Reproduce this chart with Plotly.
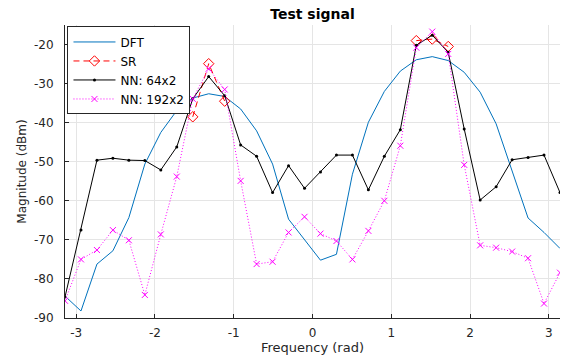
import numpy as np
import plotly.graph_objects as go

freq = np.linspace(-np.pi, np.pi, 32)

dft = [-84.4, -88.2, -76.2, -72.8, -64.3, -50.6, -42.5, -36.9, -33.7, -32.6,
       -33.3, -36.5, -42.1, -50.6, -64.7, -69.8, -75.2, -73.7, -53.2, -39.9,
       -32.0, -26.8, -23.9, -23.1, -24.1, -27.1, -32.2, -40.3, -52.3, -64.4,
       -68.1, -72.2]

sr = [None] * 8 + [-38.5, -24.9, -34.5] + [None] * 11 + [-19.0, -18.6, -20.5] + [None] * 7

nn64 = [-84.6, -67.5, -49.6, -49.1, -49.6, -49.7, -52.1, -46.2, -33.9, -28.2,
        -33.1, -45.7, -48.6, -57.9, -51.0, -56.8, -52.6, -48.3, -48.3, -57.2,
        -48.6, -41.8, -20.2, -17.6, -22.0, -41.6, -59.8, -56.4, -49.5, -48.9,
        -48.3, -57.9]

nn192 = [-85.6, -75.0, -72.6, -67.5, -70.1, -84.1, -68.6, -53.8, -33.9, -26.2,
         -31.5, -54.9, -76.2, -75.6, -68.1, -64.1, -68.4, -70.3, -75.0, -67.7,
         -60.0, -45.9, -20.8, -16.7, -22.4, -50.8, -71.4, -72.0, -73.0, -74.7,
         -86.3, -78.4]

xticks = [-3, -2, -1, 0, 1, 2, 3]
xticklabels = ["-3", "-2", "-1", "0", "1", "2", "3"]
yticks = [-90, -80, -70, -60, -50, -40, -30, -20]
yticklabels = ["-90", "-80", "-70", "-60", "-50", "-40", "-30", "-20"]

FONT = "DejaVu Sans"
TXT = "#262626"

fig = go.Figure()
fig.add_trace(go.Scatter(x=freq, y=dft, name="DFT", mode="lines",
                         line=dict(color="#0072BD", width=1)))
fig.add_trace(go.Scatter(x=freq, y=sr, name="SR", mode="lines+markers",
                         connectgaps=False,
                         line=dict(color="#FF0000", width=1, dash="6px,4px"),
                         marker=dict(symbol="diamond-open", size=8, color="#FF0000",
                                     line=dict(width=1))))
fig.add_trace(go.Scatter(x=freq, y=nn64, name="NN: 64x2", mode="lines+markers",
                         line=dict(color="#000000", width=1),
                         marker=dict(symbol="circle", size=3, color="#000000")))
fig.add_trace(go.Scatter(x=freq, y=nn192, name="NN: 192x2", mode="lines+markers",
                         line=dict(color="#FF00FF", width=1, dash="1px,2px"),
                         marker=dict(symbol="x-thin-open", size=6, color="#FF00FF",
                                     line=dict(width=1, color="#FF00FF"))))

axis_common = dict(showgrid=True, gridcolor="#e5e5e5", gridwidth=1,
                   showline=True, linecolor=TXT, linewidth=1,
                   ticks="inside", ticklen=4, tickcolor=TXT,
                   zeroline=False, mirror=False)

fig.update_xaxes(range=[-np.pi, np.pi], tickvals=xticks, ticktext=xticklabels,
                 ticklabelstandoff=4,
                 tickfont=dict(family=FONT, size=12, color=TXT),
                 title=dict(text="Frequency (rad)", standoff=3,
                            font=dict(family=FONT, size=13, color=TXT)),
                 **axis_common)
fig.update_yaxes(range=[-90, -15], tickvals=yticks, ticktext=yticklabels,
                 ticklabelstandoff=8,
                 tickfont=dict(family=FONT, size=12, color=TXT),
                 title=dict(text="Magnitude (dBm)", standoff=4,
                            font=dict(family=FONT, size=12, color=TXT)),
                 **axis_common)

fig.update_layout(
    width=565, height=356,
    margin=dict(l=65, r=5, t=25, b=38, autoexpand=False),
    paper_bgcolor="white", plot_bgcolor="white",
    title=dict(text="<b>Test signal</b>", xref="paper", x=0.5, xanchor="center",
               y=0.975, yanchor="top",
               font=dict(family=FONT, size=14, color="#000000")),
    legend=dict(x=0.005, y=0.995, xanchor="left", yanchor="top",
                bgcolor="white", bordercolor=TXT, borderwidth=1,
                font=dict(family=FONT, size=12, color="#000000"),
                tracegroupgap=0, itemwidth=42),
    showlegend=True,
)

fig.write_html("out.html")
